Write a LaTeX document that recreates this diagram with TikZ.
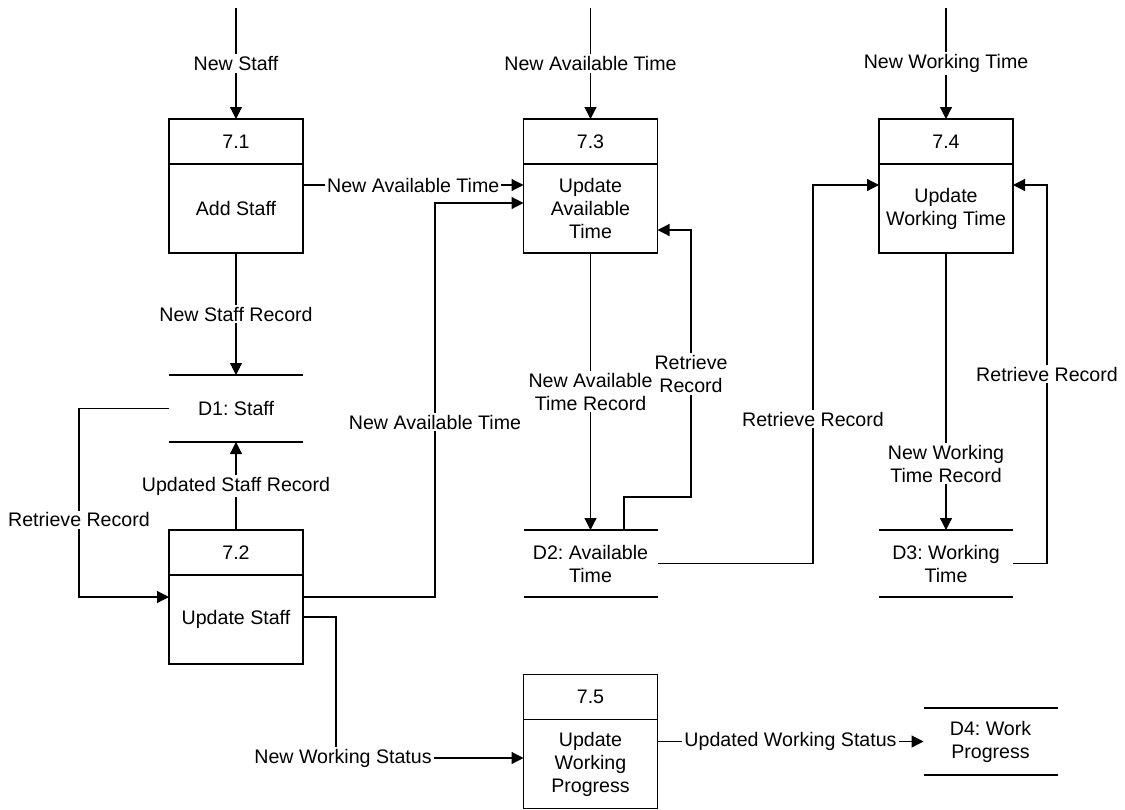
\documentclass[tikz,border=0pt]{standalone}
\usepackage{fontspec}
\setmainfont{Liberation Sans}
\usetikzlibrary{arrows.meta,positioning}
\frenchspacing

\begin{document}
\begin{tikzpicture}[x=0.5pt,y=-0.5pt,line width=0.6pt,
  every node/.style={font=\fontsize{9.8}{11.5}\selectfont},
  pname/.style={draw,minimum width=67pt,minimum height=44.5pt,inner sep=0pt,outer sep=0pt,align=center},
  pid/.style={draw,minimum width=67pt,minimum height=22.5pt,inner sep=0pt,outer sep=0pt},
  store/.style={minimum width=67pt,minimum height=33.5pt,inner sep=0pt,outer sep=0pt,align=center},
  flow/.style={-{Triangle[length=6pt,width=6pt]}},
  lbl/.style={fill=white,inner sep=1pt,align=center}]
\useasboundingbox (0,0) rectangle (1125,809);

% processes
\node[pname] (p71) at (236,208.5) {Add Staff};
\node[pid,above=0pt of p71] (p71id) {7.1};
\node[pname] (p72) at (236,619.5) {Update Staff};
\node[pid,above=0pt of p72] (p72id) {7.2};
\node[pname] (p73) at (590.5,208.5) {Update\\Available\\Time};
\node[pid,above=0pt of p73] (p73id) {7.3};
\node[pname] (p74) at (946,208.5) {Update\\Working Time};
\node[pid,above=0pt of p74] (p74id) {7.4};
\node[pname] (p75) at (590.5,764) {Update\\Working\\Progress};
\node[pid,above=0pt of p75] (p75id) {7.5};

% data stores
\node[store] (d1) at (236,408.5) {D1: Staff};
\node[store] (d2) at (590.5,563.5) {D2: Available\\Time};
\node[store] (d3) at (946,563.5) {D3: Working\\Time};
\node[store] (d4) at (990.5,741.5) {D4: Work\\Progress};
\foreach \d in {d1,d2,d3,d4}
  \draw (\d.north west) -- (\d.north east) (\d.south west) -- (\d.south east);

% inputs from outside
\coordinate (n71) at (236,8);
\coordinate (n73) at (590.5,8);
\coordinate (n74) at (946,8);
\draw[flow] (n71) -- node[lbl] {New Staff} (p71id);
\draw[flow] (n73) -- node[lbl] {New Available Time} (p73id);
\draw[flow] (n74) -- node[lbl] {New Working Time} (p74id);

% staff
\draw[flow] (p71.east |- 0,185) -- node[lbl] {New Available Time} (p73.west |- 0,185);
\draw[flow] (p71) -- node[lbl] {New Staff Record} (d1);
\draw[flow] (p72id) -- node[lbl] {Updated Staff Record} (d1);
\draw[flow] (d1.west) -- (79,408.5) -- node[lbl,pos=0.59] {Retrieve Record} (79,597) -- (p72.west |- 0,597);
\draw[flow] (p72.east |- 0,597) -| (435,422) node[lbl] {New Available Time} |- (p73.west |- 0,203);
\draw[flow] (p72.east |- 0,617) -| (336,758) node[lbl,xshift=3.5pt] {New Working Status} -- (p75.west |- 0,758);

% available / working time
\draw[flow] (p73) -- node[lbl] {New Available\\Time Record} (d2);
\draw[flow] (d2.north -| 624,0) |- (691,497) -- (691,374) node[lbl] {Retrieve\\Record} -- (691,230) -- (p73.east |- 0,230);
\draw[flow] (d2.east) -| (813,419) node[lbl] {Retrieve Record} |- (p74.west |- 0,185);
\draw[flow] (p74) -- node[lbl,pos=0.76] {New Working\\Time Record} (d3);
\draw[flow] (d3.east) -| (1047,374) node[lbl] {Retrieve Record} |- (p74.east |- 0,185);

% progress
\draw[flow] (p75.east |- d4.west) -- node[lbl] {Updated Working Status} (d4.west);
\end{tikzpicture}
\end{document}
